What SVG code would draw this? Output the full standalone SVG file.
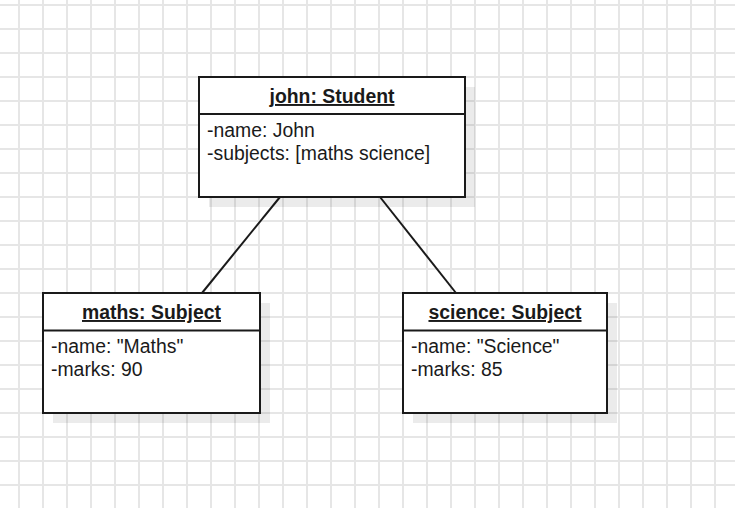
<svg xmlns="http://www.w3.org/2000/svg" width="735" height="508" viewBox="0 0 735 508">
  <defs>
    <pattern id="grid" patternUnits="userSpaceOnUse" x="7" y="-7" width="24" height="24">
      <path d="M12 0V24M0 12H24" stroke="#e6e6e6" stroke-width="2" fill="none"/>
    </pattern>
  </defs>
  <style>
    .box { fill: #ffffff; stroke: #1a1a1a; stroke-width: 2; }
    .shadow { fill: #000000; fill-opacity: 0.08; }
    .div { stroke: #1a1a1a; stroke-width: 2; }
    .title { font-family: "Liberation Sans", Arial, sans-serif; font-size: 19.4px; font-weight: bold; text-decoration: underline; fill: #1a1a1a; text-anchor: middle; }
    .attr { font-family: "Liberation Sans", Arial, sans-serif; font-size: 19.4px; fill: #1a1a1a; }
    .conn { stroke: #1a1a1a; stroke-width: 2; fill: none; }
  </style>
  <rect width="735" height="508" fill="#ffffff"/>
  <rect width="735" height="508" fill="url(#grid)"/>

  <g id="connectors">
    <line class="conn" x1="280" y1="197" x2="202" y2="293"/>
    <line class="conn" x1="380" y1="197" x2="456" y2="293"/>
  </g>

  <g id="john">
    <rect class="shadow" x="209" y="87" width="266" height="120"/>
    <rect class="box" x="199" y="77" width="266" height="120"/>
    <line class="div" x1="199" y1="114" x2="466" y2="114"/>
    <text class="title" x="332" y="103">john: Student</text>
    <text class="attr" x="207" y="137">-name: John</text>
    <text class="attr" x="207" y="160">-subjects: [maths science]</text>
  </g>

  <g id="maths">
    <rect class="shadow" x="53" y="303" width="217" height="120"/>
    <rect class="box" x="43" y="293" width="217" height="120"/>
    <line class="div" x1="43" y1="330.5" x2="261" y2="330.5"/>
    <text class="title" x="151.5" y="319">maths: Subject</text>
    <text class="attr" x="51" y="353">-name: "Maths"</text>
    <text class="attr" x="51" y="376">-marks: 90</text>
  </g>

  <g id="science">
    <rect class="shadow" x="413" y="303" width="204" height="120"/>
    <rect class="box" x="403" y="293" width="204" height="120"/>
    <line class="div" x1="403" y1="330.5" x2="608" y2="330.5"/>
    <text class="title" x="505" y="319">science: Subject</text>
    <text class="attr" x="411" y="353">-name: "Science"</text>
    <text class="attr" x="411" y="376">-marks: 85</text>
  </g>
</svg>
